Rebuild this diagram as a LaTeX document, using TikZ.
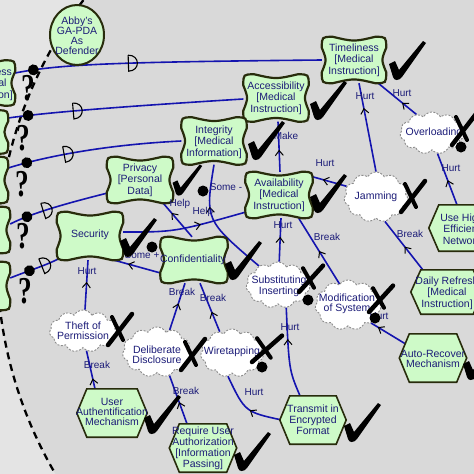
\documentclass[tikz,border=0pt]{standalone}
\usepackage{fontspec}
\setmainfont{Liberation Sans}
\newfontfamily\qfont{Liberation Serif}
\usetikzlibrary{calc,shapes.symbols,shapes.geometric,arrows.meta,decorations.markings}
\definecolor{bgin}{RGB}{217,217,217}
\definecolor{bgout}{RGB}{228,228,228}
\definecolor{sgfill}{RGB}{206,250,200}
\definecolor{sgline}{RGB}{40,44,12}
\definecolor{navy}{RGB}{28,28,120}
\definecolor{lnkblue}{RGB}{20,20,175}
\definecolor{cloudline}{RGB}{140,140,140}
\pgfdeclarelayer{bgl}
\pgfdeclarelayer{lnl}
\pgfsetlayers{bgl,lnl,main}
\newcommand{\pillow}[1]{%
\filldraw[sgshape] ($(#1.north west)+(0,11)$) .. controls (#1.north west) .. ($(#1.north west)+(11,0)$)
 .. controls ($(#1.north)+(0,5)$) .. ($(#1.north east)+(-11,0)$)
 .. controls (#1.north east) .. ($(#1.north east)+(0,11)$)
 .. controls ($(#1.east)+(-5,0)$) .. ($(#1.south east)+(0,-11)$)
 .. controls (#1.south east) .. ($(#1.south east)+(-11,0)$)
 .. controls ($(#1.south)+(0,-5)$) .. ($(#1.south west)+(11,0)$)
 .. controls (#1.south west) .. ($(#1.south west)+(0,-11)$)
 .. controls ($(#1.west)+(5,0)$) .. cycle;}
\newcommand{\hexshape}[1]{%
\filldraw[hxshape] (#1.west) -- ($(#1.north west)+(10,0)$) -- ($(#1.north east)+(-10,0)$) -- (#1.east) -- ($(#1.south east)+(-10,0)$) -- ($(#1.south west)+(10,0)$) -- cycle;}
\newcommand{\dmk}{\draw[black,line width=1.1pt] (-3,-8) -- (-3,8) .. controls (9,8) and (9,-8) .. (-3,-8);}
\newcommand{\bdot}{\fill[black] (0,0) circle[radius=5.5pt];}
\tikzset{
 sgbox/.style={rectangle, inner sep=0pt},
 sgshape/.style={fill=sgfill, draw=sgline, line width=2.2pt},
 hxshape/.style={fill=sgfill, draw=sgline, line width=1.6pt},
 hxbox/.style={rectangle, inner sep=0pt},
 cld/.style={cloud, cloud puffs=11, cloud puff arc=120, cloud ignores aspect, draw=cloudline, dash pattern=on 2pt off 1.5pt, line width=0.9pt, fill=white, inner sep=0pt},
 txt/.style={text=navy, align=center, inner sep=0pt, font=\fontsize{10.5}{11.5}\selectfont},
 lbl/.style={text=navy, inner sep=0pt, font=\fontsize{10}{11}\selectfont},
 qm/.style={inner sep=0pt, font=\qfont\bfseries\fontsize{38}{38}\selectfont},
 lnkline/.style={draw=lnkblue, line width=1.6pt},
 lnk/.style={lnkline, postaction={decorate}, decoration={markings, mark=at position #1 with {\arrow[black]{Straight Barb[length=5pt,width=8pt,line width=1pt]}}}},
 chk/.pic={\fill[black] (-8,-14) -- (-2,-17) -- (2,-8) -- (26,-37) -- (29,-35) -- (5,-1) .. controls (2,3) and (-3,3) .. (-4,-1) -- cycle;},
 xmk/.pic={\draw[black, line width=4.5pt, line cap=round] (0,0) -- (24,-31); \draw[black, line width=4pt, line cap=round] (4,-28) -- (15,-5);}
}
\begin{document}
\begin{tikzpicture}[x=1pt,y=-1pt]
\useasboundingbox (0,0) rectangle (474,474);
\begin{pgfonlayer}{bgl}
\fill[bgout] (-5,-5) rectangle (480,480);
\fill[bgin] (425,258) circle[radius=428pt];
\draw[black, line width=2.3pt, dash pattern=on 7pt off 5pt] (425,258) circle[radius=428pt];
\end{pgfonlayer}

% left goals (other actor)
\node[sgbox, minimum width=74, minimum height=45] (lg1) at (-22,83) {}; \pillow{lg1}
\node[txt] (lg1t) at (-13,84) {Timeliness\\{}[Medical\\Instruction]};
\node[sgbox, minimum width=72, minimum height=43] (lg2) at (-28,132) {}; \pillow{lg2}
\node[sgbox, minimum width=72, minimum height=46] (lg3) at (-28,180) {}; \pillow{lg3}
\node[sgbox, minimum width=72, minimum height=46] (lg4) at (-26,230) {}; \pillow{lg4}
\node[sgbox, minimum width=72, minimum height=48] (lg5) at (-26,286) {}; \pillow{lg5}

% actor
\node[ellipse, draw=sgline, line width=2pt, fill=sgfill, minimum width=54, minimum height=60, inner sep=0pt] (abby) at (77,35) {};
\node[txt, font=\fontsize{10.5}{10}\selectfont] (abbyt) at (77,36) {Abby's\\GA-PDA\\As\\Defender};

% softgoals
\node[sgbox, minimum width=64, minimum height=46] (tim) at (354,60) {}; \pillow{tim}
\node[txt] (timt) at (354,60) {Timeliness\\{}[Medical\\Instruction]};
\node[sgbox, minimum width=65, minimum height=47] (acc) at (276,98) {}; \pillow{acc}
\node[txt] (acct) at (276,98) {Accessibility\\{}[Medical\\Instruction]};
\node[sgbox, minimum width=65, minimum height=47] (int) at (214,141) {}; \pillow{int}
\node[txt] (intt) at (214,142) {Integrity\\{}[Medical\\Information]};
\node[sgbox, minimum width=66, minimum height=46] (pri) at (140,180) {}; \pillow{pri}
\node[txt] (prit) at (140,180) {Privacy\\{}[Personal\\Data]};
\node[sgbox, minimum width=67, minimum height=46] (ava) at (279,195) {}; \pillow{ava}
\node[txt] (avat) at (279,195) {Availability\\{}[Medical\\Instruction]};
\node[sgbox, minimum width=66, minimum height=48] (sec) at (90,236) {}; \pillow{sec}
\node[txt] (sect) at (90,235) {Security};
\node[sgbox, minimum width=67, minimum height=46] (con) at (194,260) {}; \pillow{con}
\node[txt] (cont) at (193,260) {Confidentiality};

% obstacles (clouds)
\node[cld, minimum width=64, minimum height=42] (ovl) at (432,133) {};
\node[txt] (ovlt) at (434,133) {Overloading};
\node[cld, minimum width=64, minimum height=50] (jam) at (376,197) {};
\node[txt] (jamt) at (376,197) {Jamming};
\node[cld, minimum width=64, minimum height=46] (sub) at (278,285) {};
\node[txt, font=\fontsize{10.5}{11}\selectfont] (subt) at (279,286) {Substituting\\Inserting};
\node[cld, minimum width=66, minimum height=50] (mod) at (348,305) {};
\node[txt, font=\fontsize{10.5}{10}\selectfont] (modt) at (347,304) {Modification\\of System};
\node[cld, minimum width=67, minimum height=42] (thf) at (83,331) {};
\node[txt, font=\fontsize{10.5}{10}\selectfont] (thft) at (83,331) {Theft of\\Permission};
\node[cld, minimum width=69, minimum height=50] (dlb) at (157,352) {};
\node[txt, font=\fontsize{10.5}{10}\selectfont] (dlbt) at (157,355) {Deliberate\\Disclosure};
\node[cld, minimum width=63, minimum height=48] (wir) at (232,353) {};
\node[txt] (wirt) at (232,352) {Wiretapping};

% operationalizations (hexagons)
\node[hxbox, minimum width=70, minimum height=48] (uah) at (112,413) {}; \hexshape{uah}
\node[txt, font=\fontsize{10.5}{10}\selectfont] (uaht) at (112,412) {User\\Authentification\\Mechanism};
\node[hxbox, minimum width=67, minimum height=48] (rua) at (203,448) {}; \hexshape{rua}
\node[txt, font=\fontsize{10.5}{11}\selectfont] (ruat) at (203,448) {Require User\\Authorization\\{}[Information\\Passing]};
\node[hxbox, minimum width=66, minimum height=48] (tef) at (313,420) {}; \hexshape{tef}
\node[txt, font=\fontsize{10.5}{11}\selectfont] (teft) at (313,420) {Transmit in\\Encrypted\\Format};
\node[hxbox, minimum width=67, minimum height=48] (arm) at (433,358) {}; \hexshape{arm}
\node[txt, font=\fontsize{10.5}{10}\selectfont] (armt) at (433,359) {Auto-Recover\\Mechanism};
\node[hxbox, minimum width=72, minimum height=44] (drf) at (447,292) {}; \hexshape{drf}
\node[txt] (drft) at (447,293) {Daily Refresh\\{}[Medical\\Instruction]};
\node[hxbox, minimum width=66, minimum height=46] (uhe) at (462,228) {}; \hexshape{uhe}
\node[txt] (uhet) at (462,229) {Use High\\Efficient\\Network};

% links
\begin{pgfonlayer}{lnl}
\draw[lnkline, postaction={decorate}, decoration={markings, mark=at position 0.06 with {\bdot}, mark=at position 0.38 with {\dmk}}]
  ($(lg1.east)+(0,-10)$) .. controls (60,64) and (120,62) .. (tim.west);
\draw[lnkline, postaction={decorate}, decoration={markings, mark=at position 0.085 with {\bdot}, mark=at position 0.29 with {\dmk}}]
  ($(lg2.east)+(0,-14)$) .. controls (50,112) and (130,106) .. ($(acc.west)+(0,1)$);
\draw[lnkline, postaction={decorate}, decoration={markings, mark=at position 0.11 with {\bdot}, mark=at position 0.345 with {\dmk}}]
  ($(lg3.east)+(0,-12)$) .. controls (40,158) and (100,145) .. (int.west);
\draw[lnkline, postaction={decorate}, decoration={markings, mark=at position 0.18 with {\bdot}, mark=at position 0.38 with {\dmk}}]
  ($(lg4.east)+(0,-6)$) .. controls (30,214) and (60,205) .. ($(pri.south west)+(0,-10)$);
\draw[lnkline, postaction={decorate}, decoration={markings, mark=at position 0.37 with {\bdot}, mark=at position 0.66 with {\dmk}}]
  ($(lg5.east)+(0,-8)$) .. controls (30,270) and (45,266) .. ($(sec.south west)+(5,-3)$);

\draw[lnk=0.375] (ovl.130) -- ($(tim.south east)+(-8,0)$);
\draw[lnk=0.72] (jam.north) -- ($(tim.south)+(5,0)$);
\draw[lnk=0.44] ($(ava.north)+(1,0)$) -- ($(acc.south)+(2,0)$);
\draw[lnk=0.7] (jam.160) -- ($(ava.north east)+(0,5)$);
\draw[lnk=0.65] (sub.135) .. controls (205,220) .. (int.south);
\draw[lnk=0.71] ($(con.north)+(-2,0)$) -- ($(pri.south east)+(-10,0)$);
\draw[lnk=0.63] ($(sec.east)+(0,-4)$) .. controls (175,232) .. ($(ava.south west)+(0,-6)$);
\draw[lnk=0.7] (con.201) -- (sec.-45);
\draw[lnk=0.57] (dlb.60) -- ($(con.south)+(-9,0)$);
\draw[lnk=0.41] (wir.120) -- ($(con.south)+(6,0)$);
\draw[lnk=0.57] (sub.87) -- ($(ava.south)+(2,0)$);
\draw[lnk=0.5] (mod.112) -- ($(ava.south east)+(-14,0)$);
\draw[lnk=0.48] ($(drf.north west)+(12,0)$) -- (jam.-70);
\draw[lnk=0.48] ($(uhe.north)+(-5,0)$) -- (ovl.-75);
\draw[lnk=0.65] ($(tef.north)+(-13,0)$) .. controls (289,370) .. (sub.-70);
\draw[lnk=0.45] ($(tef.west)+(2,0)$) .. controls (245,412) .. (wir.-100);
\draw[lnk=0.45] ($(rua.north)+(-16,0)$) -- (dlb.-62);
\draw[lnk=0.8] ($(arm.north west)+(6,10)$) -- (mod.-38);
\draw[lnk=0.27] ($(uah.north)+(-17,0)$) -- (thf.-80);
\draw[lnk=0.56] ($(thf.north)+(2,0)$) -- ($(sec.south)+(-2,0)$);
\end{pgfonlayer}

% link labels
\node[lbl] (lb1) at (402,93) {Hurt};
\node[lbl] (lb2) at (365,96) {Hurt};
\node[lbl] (lb3) at (286,136) {Make};
\node[lbl] (lb4) at (325,163) {Hurt};
\node[lbl] (lb5) at (226,187) {Some -};
\node[lbl] (lb6) at (180,204) {Help};
\node[lbl] (lb7) at (203,212) {Help};
\node[lbl] (lb8) at (142,255) {Some +};
\node[lbl] (lb9) at (182,292) {Break};
\node[lbl] (lb10) at (213,298) {Break};
\node[lbl] (lb11) at (283,225) {Hurt};
\node[lbl] (lb12) at (327,237) {Break};
\node[lbl] (lb13) at (410,234) {Break};
\node[lbl] (lb14) at (451,168) {Hurt};
\node[lbl] (lb15) at (290,327) {Hurt};
\node[lbl] (lb16) at (254,392) {Hurt};
\node[lbl] (lb17) at (186,391) {Break};
\node[lbl] (lb18) at (379,316) {Hurt};
\node[lbl] (lb19) at (97,365) {Break};
\node[lbl] (lb20) at (87,271) {Hurt};

% question marks
\node[qm] (q1) at (28,88) {\scalebox{0.72}[1]{?}};
\node[qm] (q2) at (23,138) {\scalebox{0.72}[1]{?}};
\node[qm] (q3) at (22,184) {\scalebox{0.72}[1]{?}};
\node[qm] (q4) at (23,236) {\scalebox{0.72}[1]{?}};
\node[qm] (q5) at (25,291) {\scalebox{0.72}[1]{?}};

% evaluation dots
\fill[black] (203,191) circle[radius=5.5pt];
\fill[black] (152,247) circle[radius=5.5pt];
\fill[black] (461,147) circle[radius=5.5pt];
\fill[black] (262,367) circle[radius=5.5pt];
\fill[black] (308,300) circle[radius=5.5pt];
\fill[black] (375,318) circle[radius=5.5pt];

% checkmarks
\pic at (397,78) {chk};
\pic at (318,118) {chk};
\pic at (256,158) {chk};
\pic[scale=0.8] at (179,194) {chk};
\pic at (318,211) {chk};
\pic at (128,255) {chk};
\pic at (233,278) {chk};
\pic at (152,432) {chk};
\pic at (242,469) {chk};
\pic at (352,440) {chk};
\pic at (471,378) {chk};

% crosses
\pic at (452,145) {xmk};
\pic at (401,212) {xmk};
\pic at (108,345) {xmk};
\pic at (181,370) {xmk};
\pic[xscale=1.25, yscale=0.85] at (252,362) {xmk};
\pic[yscale=0.85] at (299,292) {xmk};
\pic[yscale=0.85] at (369,312) {xmk};
\end{tikzpicture}
\end{document}
